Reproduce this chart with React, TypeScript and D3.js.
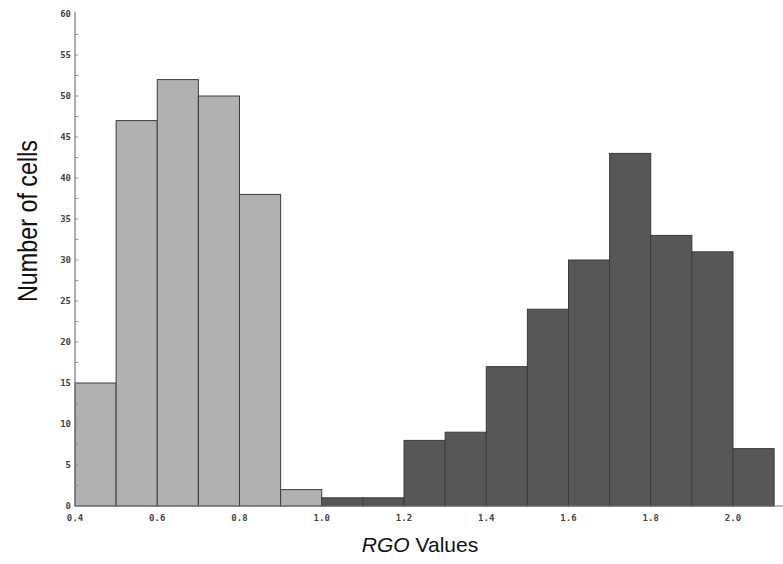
import React, { useRef, useEffect } from "react";
import * as d3 from "d3";

// histogram bins (lower edge) and counts
const lightBins = [0.4, 0.5, 0.6, 0.7, 0.8, 0.9];
const lightCounts = [15, 47, 52, 50, 38, 2];
const darkBins = [1.0, 1.1, 1.2, 1.3, 1.4, 1.5, 1.6, 1.7, 1.8, 1.9, 2.0];
const darkCounts = [1, 1, 8, 9, 17, 24, 30, 43, 33, 31, 7];
const xTicks = [0.4, 0.6, 0.8, 1.0, 1.2, 1.4, 1.6, 1.8, 2.0];
const yTicks = [0, 5, 10, 15, 20, 25, 30, 35, 40, 45, 50, 55, 60];

export default function App() {
  const ref = useRef<SVGSVGElement>(null);

  useEffect(() => {
    const width = 783;
    const height = 564;
    const svg = d3.select(ref.current);
    svg.selectAll("*").remove();
    svg.attr("width", width).attr("height", height);

    const x = d3.scaleLinear().domain([0.4, 2.0]).range([75, 733]);
    const y = d3.scaleLinear().domain([0, 60]).range([506, 14]);
    const binW = 0.1;

    const drawBars = (bins: number[], counts: number[], fill: string) => {
      svg.append("g")
        .selectAll("rect")
        .data(bins.map((b, i) => ({ b, c: counts[i] })))
        .enter()
        .append("rect")
        .attr("x", d => x(d.b))
        .attr("y", d => y(d.c))
        .attr("width", d => x(d.b + binW) - x(d.b))
        .attr("height", d => y(0) - y(d.c))
        .attr("fill", fill)
        .attr("stroke", "#3c3c3c")
        .attr("stroke-width", 1);
    };
    drawBars(lightBins, lightCounts, "#b1b1b1");
    drawBars(darkBins, darkCounts, "#575757");

    // axes lines
    svg.append("line")
      .attr("x1", x(0.4)).attr("x2", x(0.4))
      .attr("y1", y(60) - 2).attr("y2", y(0))
      .attr("stroke", "#777").attr("stroke-width", 1.2);
    svg.append("line")
      .attr("x1", x(0.4)).attr("x2", width)
      .attr("y1", y(0)).attr("y2", y(0))
      .attr("stroke", "#777").attr("stroke-width", 1.2);

    // y ticks (major + minor, inside)
    const minor = d3.range(0, 60, 2.5);
    svg.append("g").selectAll("line")
      .data(minor)
      .enter()
      .append("line")
      .attr("x1", x(0.4)).attr("x2", x(0.4) + 3)
      .attr("y1", d => y(d)).attr("y2", d => y(d))
      .attr("stroke", "#888");

    svg.append("g").selectAll("text")
      .data(yTicks)
      .enter()
      .append("text")
      .attr("x", x(0.4) - 4)
      .attr("y", d => y(d) + 3)
      .attr("text-anchor", "end")
      .attr("font-family", "DejaVu Sans Mono")
      .attr("font-weight", "bold")
      .attr("font-size", "9px")
      .attr("fill", "#444")
      .text(d => d);

    svg.append("g").selectAll("text")
      .data(xTicks)
      .enter()
      .append("text")
      .attr("x", d => x(d))
      .attr("y", y(0) + 15)
      .attr("text-anchor", "middle")
      .attr("font-family", "DejaVu Sans Mono")
      .attr("font-weight", "bold")
      .attr("font-size", "9px")
      .attr("fill", "#444")
      .text(d => d.toFixed(1));

    // axis titles
    svg.append("text")
      .attr("transform", "translate(37,221) rotate(-90)")
      .attr("text-anchor", "middle")
      .attr("font-family", "Liberation Sans")
      .attr("font-size", "27px")
      .attr("textLength", 162)
      .attr("lengthAdjust", "spacingAndGlyphs")
      .attr("fill", "#111")
      .text("Number of cells");

    const xt = svg.append("text")
      .attr("x", 420)
      .attr("y", 552)
      .attr("text-anchor", "middle")
      .attr("font-family", "Liberation Sans")
      .attr("font-size", "21px")
      .attr("fill", "#111");
    xt.append("tspan").attr("font-style", "italic").text("RGO");
    xt.append("tspan").text(" Values");
  }, []);

  return <svg ref={ref} style={{ position: "absolute", left: 0, top: 0 }}></svg>;
}
